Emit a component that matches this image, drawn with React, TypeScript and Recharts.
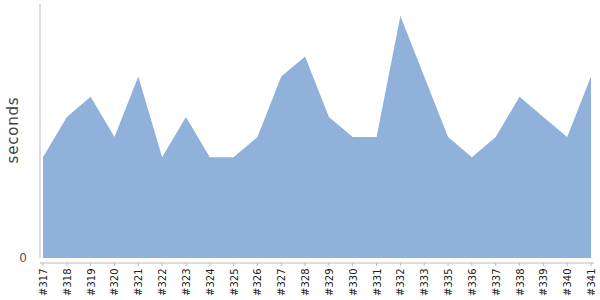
import React from "react";
import { AreaChart, Area, XAxis, YAxis } from "recharts";

const builds = ["#317", "#318", "#319", "#320", "#321", "#322", "#323", "#324", "#325", "#326", "#327", "#328", "#329", "#330", "#331", "#332", "#333", "#335", "#336", "#337", "#338", "#339", "#340", "#341"];
const seconds = [5, 7, 8, 6, 9, 5, 7, 5, 5, 6, 9, 10, 7, 6, 6, 12, 9, 6, 5, 6, 8, 7, 6, 9];
const yTicks = [0];

const data = builds.map((b, i) => ({ build: b, seconds: seconds[i] }));

const XTick = (props: any) => {
  const { x, y, payload } = props;
  return (
    <g>
      <line x1={x} x2={x} y1={y + 5} y2={y + 8} stroke="#bbb" />
      <text
        transform={`translate(${x + 4},${y + 10.5}) rotate(-90)`}
        textAnchor="end"
        fontSize={10}
        fontFamily="'DejaVu Sans', sans-serif"
        fill="#222"
      >
        {payload.value}
      </text>
    </g>
  );
};

export default function App() {
  return (
    <div style={{ position: "absolute", left: 0, top: 0, width: 600, height: 300, background: "#fff" }}>
      <AreaChart width={600} height={300} data={data} margin={{ top: 4, right: 6, left: 0, bottom: 0 }}>
        <XAxis
          dataKey="build"
          interval={0}
          height={42}
          tickSize={0}
          tickMargin={0}
          padding={{ left: 3, right: 3 }}
          axisLine={{ stroke: "#bbb", transform: "translate(0,5)" }}
          tickLine={false}
          tick={<XTick />}
        />
        <YAxis
          width={40}
          domain={[0, 12.6]}
          ticks={yTicks}
          tickLine={false}
          tickMargin={7}
          axisLine={{ stroke: "#bbb" }}
          tick={{ fontSize: 12, fill: "#555", fontFamily: "'DejaVu Sans', sans-serif" }}
          label={{
            content: () => (
              <text
                x={13}
                y={130}
                transform="rotate(-90 13 130)"
                textAnchor="middle"
                dominantBaseline="central"
                fontSize={15}
                letterSpacing={0.8}
                fill="#444"
                fontFamily="'DejaVu Sans', sans-serif"
              >
                seconds
              </text>
            ),
          }}
        />
        <Area
          type="linear"
          dataKey="seconds"
          stroke="none"
          fill="#8fb1da"
          fillOpacity={1}
          isAnimationActive={false}
          dot={false}
          activeDot={false}
        />
      </AreaChart>
    </div>
  );
}
